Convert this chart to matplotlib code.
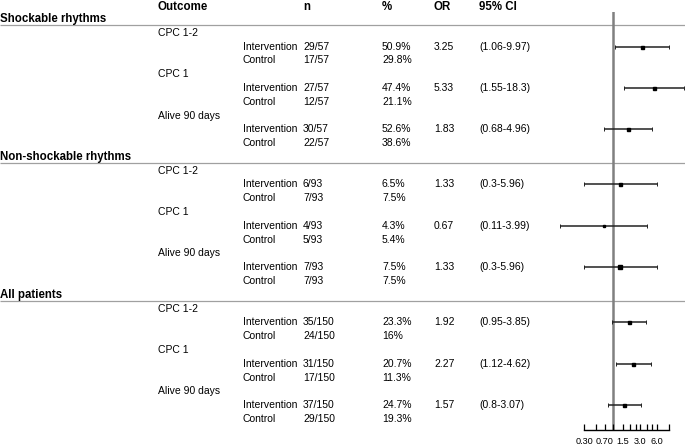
import numpy as np
import matplotlib
matplotlib.use("Agg")
from matplotlib import pyplot as plt
from matplotlib.ticker import FixedLocator, FixedFormatter

plt.rcParams['font.family'] = ['Liberation Sans', 'DejaVu Sans']

# data
#-----------------------------------------------------------------------------
groups = ["Shockable rhythms", "Non-shockable rhythms", "All patients"]
outcomes = ["CPC 1-2", "CPC 1", "Alive 90 days"]
arms = ["Intervention", "Control"]
group_n = [57, 93, 150]

# events per group/outcome, intervention and control
int_events = [[29, 27, 30], [6, 4, 7], [35, 31, 37]]
ctrl_events = [[17, 12, 22], [7, 5, 7], [24, 17, 29]]
int_pct = [[50.9, 47.4, 52.6], [6.5, 4.3, 7.5], [23.3, 20.7, 24.7]]
ctrl_pct = [[29.8, 21.1, 38.6], [7.5, 5.4, 7.5], [16, 11.3, 19.3]]

odds = [[3.25, 5.33, 1.83], [1.33, 0.67, 1.33], [1.92, 2.27, 1.57]]
ci_lo = [[1.06, 1.55, 0.68], [0.3, 0.11, 0.3], [0.95, 1.12, 0.8]]
ci_hi = [[9.97, 18.3, 4.96], [5.96, 3.99, 5.96], [3.85, 4.62, 3.07]]
box_px = [[3, 3, 3], [3, 2.5, 4], [3, 3, 3]]

tick_vals = [0.3, 0.5, 0.7, 1.0, 1.5, 2.0, 2.5, 3.0, 4.0, 5.0, 6.0, 10.0]
tick_labs = ["0.30", "", "0.70", "", "1.5", "", "", "3.0", "", "", "6.0", ""]
#-----------------------------------------------------------------------------

W, H = 685, 446
fig = plt.figure(figsize=(W / 100, H / 100), dpi=100)

# table axes in pixel coordinates
ax = fig.add_axes([0, 0, 1, 1])
ax.set_xlim(0, W)
ax.set_ylim(H, 0)
ax.axis('off')

# forest axes, y in same pixel units
y_top, y_bot = 12, 430
x_lo, x_hi = 584, 669.3
fax = fig.add_axes([x_lo / W, (H - y_bot) / H, (x_hi - x_lo) / W, (y_bot - y_top) / H])
fax.set_xscale('log')
fax.set_xlim(0.3, 10)
fax.set_ylim(y_bot, y_top)
fax.patch.set_alpha(0)
for s in ['left', 'right', 'top']:
    fax.spines[s].set_visible(False)
fax.spines['bottom'].set_linewidth(1.0)
fax.set_yticks([])
fax.xaxis.set_major_locator(FixedLocator(tick_vals))
fax.xaxis.set_major_formatter(FixedFormatter(tick_labs))
fax.xaxis.set_minor_locator(FixedLocator([]))
fax.tick_params(axis='x', direction='in', length=4, width=0.9, pad=5, labelsize=6.6)
fax.axvline(1, color='#808080', lw=1.8, zorder=1)

col_x = {'outcome': 158, 'arm': 243, 'n': 303, 'pct': 382, 'or': 434, 'ci': 479}
fs = 7.5
fs_b = 8.3

def row_y(i):
    return 19 + 13.79 * (i - 1)

# header
y0 = 7
for key, lab in [('outcome', 'Outcome'), ('n', 'n'), ('pct', '%'), ('or', 'OR'), ('ci', '95% CI')]:
    ax.text(col_x[key], y0, lab, fontsize=fs_b, fontweight='bold', va='center', ha='left')

def fmt(v):
    return "{:g}".format(v)

i = 1
for g, gname in enumerate(groups):
    y = row_y(i)
    ax.text(0, y, gname, fontsize=fs_b, fontweight='bold', va='center', ha='left')
    ax.plot([0, W], [y + 6, y + 6], color='#a0a0a0', lw=0.9, solid_capstyle='butt')
    i += 1
    for o, oname in enumerate(outcomes):
        ax.text(col_x['outcome'], row_y(i), oname, fontsize=fs, va='center')
        i += 1
        # intervention row carries OR and CI
        yi = row_y(i)
        ax.text(col_x['arm'], yi, arms[0], fontsize=fs, va='center')
        ax.text(col_x['n'], yi, "%d/%d" % (int_events[g][o], group_n[g]), fontsize=fs, va='center')
        ax.text(col_x['pct'], yi, fmt(int_pct[g][o]) + "%", fontsize=fs, va='center')
        ax.text(col_x['or'], yi, fmt(odds[g][o]), fontsize=fs, va='center')
        ax.text(col_x['ci'], yi, "(%s-%s)" % (fmt(ci_lo[g][o]), fmt(ci_hi[g][o])), fontsize=fs, va='center')
        fax.plot([ci_lo[g][o], ci_hi[g][o]], [yi, yi], color='#222222', lw=1.1,
                 clip_on=False, zorder=3, solid_capstyle='butt')
        fax.plot([ci_lo[g][o], ci_hi[g][o]], [yi, yi], ls='none', marker='|', ms=2.2,
                 mew=0.7, color='#222222', clip_on=False, zorder=3)
        fax.plot([odds[g][o]], [yi], marker='s', ls='none', color='black',
                 ms=box_px[g][o] * 0.72, clip_on=False, zorder=4)
        i += 1
        yc = row_y(i)
        ax.text(col_x['arm'], yc, arms[1], fontsize=fs, va='center')
        ax.text(col_x['n'], yc, "%d/%d" % (ctrl_events[g][o], group_n[g]), fontsize=fs, va='center')
        ax.text(col_x['pct'], yc, fmt(ctrl_pct[g][o]) + "%", fontsize=fs, va='center')
        i += 1

fig.savefig("out.png", dpi=100)
